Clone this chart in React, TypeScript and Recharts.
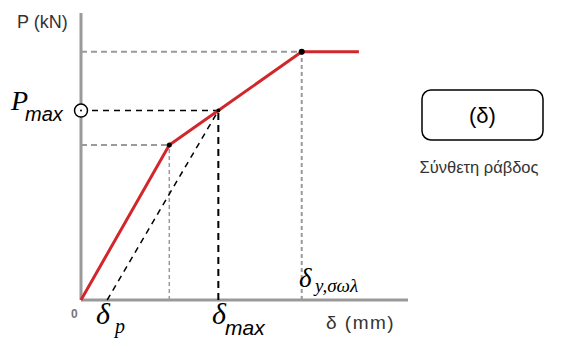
import React from 'react';
import {
  Line,
  LineChart,
  ReferenceDot,
  ReferenceLine,
  XAxis,
  YAxis
} from 'recharts';

// load–displacement curve (schematic units, 0–100 on both axes)
const displacement = [0, 27, 42, 67.5, 85];
const load = [0, 54, 66, 86.5, 86.5];

const kneePoint = { d: 27, p: 54 };
const maxPoint = { d: 42, p: 66 };
const yieldPoint = { d: 67.5, p: 86.5 };
const deltaP = 8;

const curve = displacement.map((d, i) => ({ d, p: load[i] }));

const GREY = '#9a9a9a';
const RED = '#d3262b';

const W = 569;
const H = 340;

export default function App() {
  return (
    <div style={{ position: 'absolute', left: 0, top: 0, width: W, height: H, background: '#fff' }}>
      <LineChart
        width={W}
        height={H}
        data={curve}
        margin={{ top: 13, right: 161, bottom: 40, left: 81 }}
      >
        <XAxis type="number" dataKey="d" domain={[0, 100]} hide />
        <YAxis type="number" domain={[0, 100]} hide />

        {/* axes */}
        <ReferenceLine segment={[{ x: 0, y: 0 }, { x: 100, y: 0 }]} stroke={GREY} strokeWidth={3} />
        <ReferenceLine segment={[{ x: 0, y: 0 }, { x: 0, y: 100 }]} stroke={GREY} strokeWidth={3} />

        {/* grey guides */}
        <ReferenceLine
          segment={[{ x: 0, y: kneePoint.p }, { x: kneePoint.d, y: kneePoint.p }]}
          stroke={GREY} strokeWidth={2} strokeDasharray="6 4"
        />
        <ReferenceLine
          segment={[{ x: kneePoint.d, y: 0 }, { x: kneePoint.d, y: kneePoint.p }]}
          stroke={GREY} strokeWidth={1.5} strokeDasharray="4 3"
        />
        <ReferenceLine
          segment={[{ x: 0, y: yieldPoint.p }, { x: yieldPoint.d, y: yieldPoint.p }]}
          stroke={GREY} strokeWidth={2} strokeDasharray="6 4"
        />
        <ReferenceLine
          segment={[{ x: yieldPoint.d, y: 0 }, { x: yieldPoint.d, y: yieldPoint.p }]}
          stroke={GREY} strokeWidth={2} strokeDasharray="4 3"
        />

        {/* black guides */}
        <ReferenceLine
          segment={[{ x: 0, y: maxPoint.p }, { x: maxPoint.d, y: maxPoint.p }]}
          stroke="#000" strokeWidth={1.5} strokeDasharray="6 5"
        />
        <ReferenceLine
          segment={[{ x: maxPoint.d, y: 0 }, { x: maxPoint.d, y: maxPoint.p }]}
          stroke="#000" strokeWidth={2} strokeDasharray="7 5"
        />
        <ReferenceLine
          segment={[{ x: deltaP, y: 0 }, { x: maxPoint.d, y: maxPoint.p }]}
          stroke="#000" strokeWidth={1.5} strokeDasharray="6 5"
        />

        <Line
          dataKey="p"
          stroke={RED}
          strokeWidth={3}
          dot={false}
          isAnimationActive={false}
        />

        <ReferenceDot x={kneePoint.d} y={kneePoint.p} r={2.5} fill="#000" stroke="none" />
        <ReferenceDot x={maxPoint.d} y={maxPoint.p} r={2} fill="#000" stroke="none" />
        <ReferenceDot x={yieldPoint.d} y={yieldPoint.p} r={3} fill="#000" stroke="none" />
        <ReferenceDot x={0} y={maxPoint.p} r={6.5} fill="#fff" stroke="#000" strokeWidth={1.5} ifOverflow="visible" />
        <ReferenceDot x={0} y={maxPoint.p} r={1} fill="#000" stroke="none" ifOverflow="visible" />
      </LineChart>

      <svg
        width={W}
        height={H}
        style={{ position: 'absolute', left: 0, top: 0, pointerEvents: 'none' }}
      >
        <text x={17} y={28} fontFamily="Arial, 'Liberation Sans'" fontSize={18} fill="#333">P (kN)</text>

        <text x={11} y={110} fontFamily="'Liberation Serif', 'Times New Roman'" fontStyle="italic" fontSize={28}>P</text>
        <text x={25} y={121} fontFamily="Arial, 'Liberation Sans'" fontStyle="italic" fontSize={20}>max</text>

        <text x={71} y={318} fontFamily="Arial, 'Liberation Sans'" fontWeight="bold" fontSize={12} fill="#777">0</text>

        <text x={96} y={324} fontFamily="'Liberation Serif', 'Times New Roman'" fontStyle="italic" fontSize={30}>δ</text>
        <text x={115} y={333} fontFamily="'Liberation Serif', 'Times New Roman'" fontStyle="italic" fontSize={20}>p</text>

        <text x={212} y={324} fontFamily="'Liberation Serif', 'Times New Roman'" fontStyle="italic" fontSize={30}>δ</text>
        <text x={225} y={335} fontFamily="Arial, 'Liberation Sans'" fontStyle="italic" fontSize={21}>max</text>

        <text x={299} y={287} fontFamily="'Liberation Serif', 'Times New Roman'" fontStyle="italic" fontSize={27}>δ</text>
        <text x={315} y={292} fontFamily="'Liberation Serif', 'Times New Roman'" fontStyle="italic" fontSize={19}>y,σωλ</text>

        <text x={326} y={329} fontFamily="Arial, 'Liberation Sans'" fontSize={19} letterSpacing={1.5} fill="#333">δ (mm)</text>

        <rect x={422} y={90} width={121} height={50} rx={9} fill="#fff" stroke="#000" strokeWidth={1.5} />
        <text x={482.5} y={123} textAnchor="middle" fontFamily="Arial, 'Liberation Sans'" fontSize={22}>(δ)</text>
        <text x={479} y={173} textAnchor="middle" fontFamily="Arial, 'Liberation Sans'" fontSize={16.5} fill="#333">Σύνθετη ράβδος</text>
      </svg>
    </div>
  );
}
